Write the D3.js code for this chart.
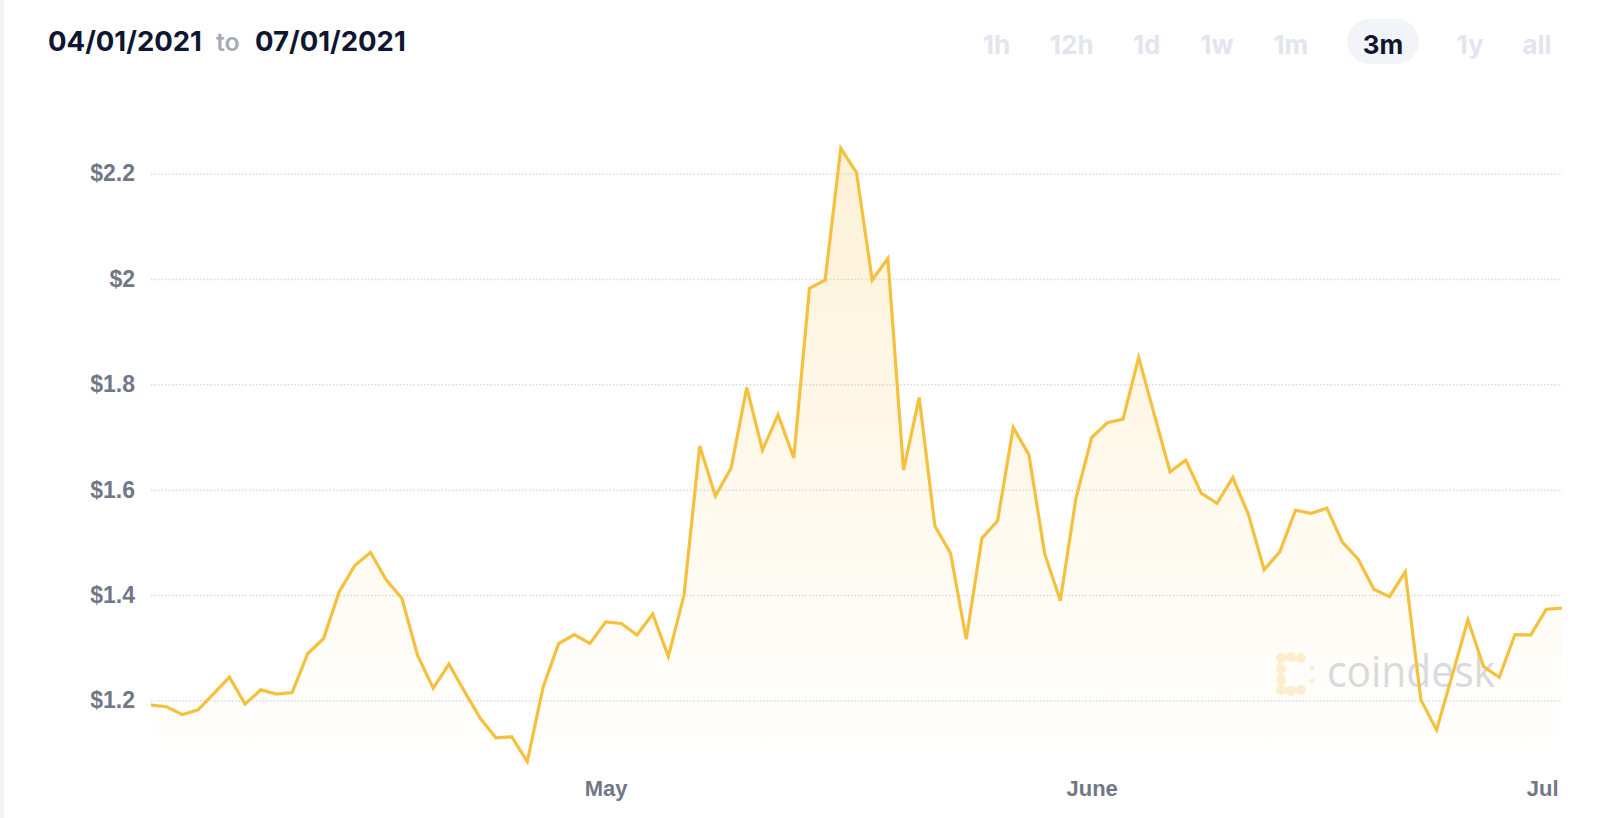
<!DOCTYPE html>
<html>
<head>
<meta charset="utf-8">
<script src="https://cdn.jsdelivr.net/npm/d3@7"></script>
<style>
  html, body { margin: 0; padding: 0; background: #fff; }
  svg { display: block; }
</style>
</head>
<body>
<svg width="1600" height="818"></svg>
<script>
// ---- data ----
var startDate = new Date(2021, 3, 2);   // first point, Apr 2 2021
var prices = [
  1.191, 1.188, 1.173, 1.182, 1.213, 1.244, 1.193, 1.220, 1.212, 1.215,
  1.289, 1.317, 1.406, 1.456, 1.481, 1.429, 1.394, 1.286, 1.223, 1.269,
  1.217, 1.166, 1.129, 1.131, 1.084, 1.224, 1.308, 1.325, 1.308, 1.349,
  1.346, 1.324, 1.364, 1.283, 1.400, 1.683, 1.588, 1.641, 1.794, 1.675,
  1.742, 1.660, 1.982, 1.998, 2.248, 2.202, 1.998, 2.039, 1.637, 1.775,
  1.531, 1.479, 1.316, 1.508, 1.541, 1.718, 1.666, 1.479, 1.389, 1.584,
  1.699, 1.727, 1.734, 1.851, 1.742, 1.634, 1.656, 1.593, 1.574, 1.623,
  1.553, 1.448, 1.482, 1.561, 1.555, 1.565, 1.500, 1.468, 1.411, 1.397,
  1.444, 1.201, 1.144, 1.248, 1.353, 1.264, 1.244, 1.325, 1.324, 1.373,
  1.375
];
var yTicks = [1.2, 1.4, 1.6, 1.8, 2.0, 2.2];
var yTickLabels = ['$1.2', '$1.4', '$1.6', '$1.8', '$2', '$2.2'];
var xTickDates = [new Date(2021, 4, 1), new Date(2021, 5, 1), new Date(2021, 6, 1)];
var xTickLabels = ['May', 'June', 'Jul'];
var rangeButtons = ['1h', '12h', '1d', '1w', '1m', '3m', '1y', 'all'];
var activeButton = '3m';

var data = prices.map(function (p, i) {
  return { date: d3.timeDay.offset(startDate, i), value: p };
});

var svg = d3.select('svg');

// faint left border
svg.append('rect').attr('x', 0).attr('y', 0).attr('width', 4).attr('height', 818).attr('fill', '#f3f4f9');

// ---- scales ----
var x = d3.scaleTime()
  .domain([startDate, data[data.length - 1].date])
  .range([151, 1562]);
var y = d3.scaleLinear()
  .domain([1.2, 2.2])
  .range([700.4, 173.6]);

// ---- header ----
var header = svg.append('g').attr('font-family', 'Inter, sans-serif');
header.append('text').attr('x', 48).attr('y', 51)
  .attr('font-size', 27.5).attr('font-weight', 700).attr('fill', '#0f1631')
  .text('04/01/2021');
header.append('text').attr('x', 216).attr('y', 51)
  .attr('font-size', 25).attr('font-weight', 600).attr('fill', '#a8abb8')
  .text('to');
header.append('text').attr('x', 255).attr('y', 51)
  .attr('font-size', 27.5).attr('font-weight', 700).attr('fill', '#0f1631')
  .text('07/01/2021');

var buttonX = [996.5, 1071.7, 1146.7, 1217, 1290.7, 1383, 1470, 1537];
var btn = svg.append('g').attr('font-family', 'Inter, sans-serif');
btn.append('rect')
  .attr('x', buttonX[rangeButtons.indexOf(activeButton)] - 36).attr('y', 19)
  .attr('width', 72).attr('height', 45).attr('rx', 22.5)
  .attr('fill', '#f3f4f9');
btn.selectAll('text.btn')
  .data(rangeButtons)
  .enter()
  .append('text')
  .attr('class', 'btn')
  .attr('x', function (d, i) { return buttonX[i]; })
  .attr('y', 54)
  .attr('text-anchor', 'middle')
  .attr('font-size', 26)
  .attr('font-weight', 700)
  .attr('fill', function (d) { return d === activeButton ? '#0f1631' : '#e2e4ee'; })
  .text(function (d) { return d; });

// ---- grid + y labels ----
var yAxis = d3.axisLeft(y)
  .tickValues(yTicks)
  .tickSize(-(1562 - 151))
  .tickPadding(16)
  .tickFormat(function (d, i) { return yTickLabels[i]; });

var gy = svg.append('g')
  .attr('transform', 'translate(151,0)')
  .call(yAxis);
gy.select('.domain').remove();
gy.selectAll('.tick line')
  .attr('stroke', '#d3d8ee')
  .attr('stroke-width', 1.5)
  .attr('stroke-dasharray', '1.5,2');
gy.selectAll('.tick text')
  .attr('font-family', '"Liberation Sans", Arial, sans-serif')
  .attr('font-size', 23)
  .attr('font-weight', 700)
  .attr('fill', '#727787');

// ---- watermark ----
var wm = svg.append('g');
var dotColor = '#fcefd2';
[[1281, 658], [1291, 657], [1301, 658], [1281, 669], [1281, 680], [1281, 690], [1291, 691], [1301, 690]]
  .forEach(function (p) {
    wm.append('circle').attr('cx', p[0]).attr('cy', p[1]).attr('r', 5).attr('fill', dotColor);
  });
wm.append('path')
  .attr('d', 'M1301,658 L1281,658 L1281,690 L1301,690')
  .attr('fill', 'none').attr('stroke', dotColor).attr('stroke-width', 5);
wm.append('circle').attr('cx', 1312).attr('cy', 668).attr('r', 2.5).attr('fill', dotColor);
wm.append('circle').attr('cx', 1312).attr('cy', 681).attr('r', 2.5).attr('fill', dotColor);
wm.append('text')
  .attr('x', 1327).attr('y', 687)
  .attr('font-family', '"Open Sans", sans-serif')
  .attr('font-size', 44)
  .attr('textLength', 168)
  .attr('lengthAdjust', 'spacingAndGlyphs')
  .attr('fill', '#d8dae2')
  .text('coindesk');

// ---- area + line ----
var defs = svg.append('defs');
var grad = defs.append('linearGradient')
  .attr('id', 'areaFill')
  .attr('gradientUnits', 'userSpaceOnUse')
  .attr('x1', 0).attr('x2', 0)
  .attr('y1', y(2.25)).attr('y2', 760);
grad.append('stop').attr('offset', '0%').attr('stop-color', '#f7c244').attr('stop-opacity', 0.22);
grad.append('stop').attr('offset', '100%').attr('stop-color', '#f7c244').attr('stop-opacity', 0);

var area = d3.area()
  .x(function (d) { return x(d.date); })
  .y0(760)
  .y1(function (d) { return y(d.value); });

var line = d3.line()
  .x(function (d) { return x(d.date); })
  .y(function (d) { return y(d.value); });

svg.append('path')
  .datum(data)
  .attr('d', area)
  .attr('fill', 'url(#areaFill)');

svg.append('path')
  .datum(data)
  .attr('d', line)
  .attr('fill', 'none')
  .attr('stroke', '#f5c03d')
  .attr('stroke-width', 3.2)
  .attr('stroke-linejoin', 'miter');

// ---- x labels ----
var xAxis = d3.axisBottom(x)
  .tickValues(xTickDates)
  .tickSize(0)
  .tickPadding(0)
  .tickFormat(function (d, i) { return xTickLabels[i]; });

var gx = svg.append('g')
  .attr('transform', 'translate(0,780)')
  .call(xAxis);
gx.select('.domain').remove();
gx.selectAll('.tick text')
  .attr('font-family', '"Liberation Sans", Arial, sans-serif')
  .attr('font-size', 22)
  .attr('font-weight', 700)
  .attr('fill', '#727787');
gx.selectAll('.tick text')
  .filter(function (d, i) { return i === xTickDates.length - 1; })
  .attr('text-anchor', 'end')
  .attr('dx', -4);
</script>
</body>
</html>
